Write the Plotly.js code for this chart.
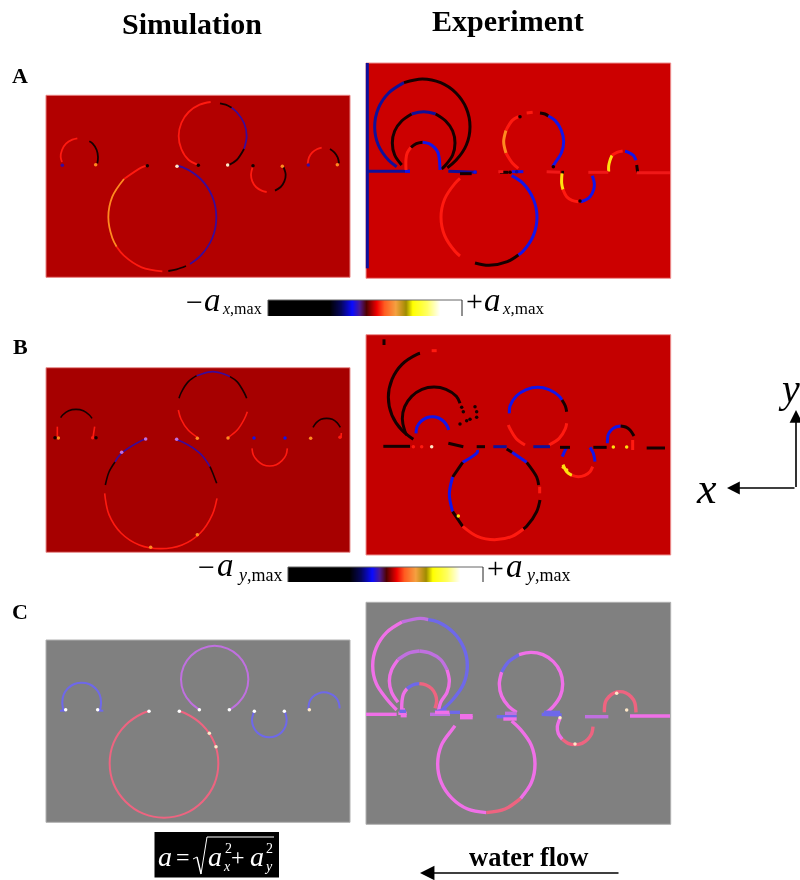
<!DOCTYPE html>
<html><head><meta charset="utf-8">
<script src="https://cdn.plot.ly/plotly-3.0.1.min.js"></script>
<style>html,body{margin:0;padding:0;background:#fff}#c{width:800px;height:880px;filter:blur(.45px)}</style>
</head><body><div id="c"></div>
<script>
// Panel curves: one list of x, one of y and one colour name per stroke.
const A1_k=['red','black','red','black','purple','black','red','orange','red','purple','black','red','black','red','black'];
const A1_x=[[186,182,186,198,217,232],[268,278,290,294,292],[592,566,544,536,544,566,599,632],[660,677,695],[695,710,732,740,732],[732,710,685],[442,425,372],[372,337,325,337,350],[350,372,425,487],[532,549,602,637,649,637,602,570],[558,530,505],[758,753,757,768,785,800],[825,842,853,857,850],[923,927,937,952,965],[990,1003,1013,1017]];
const A1_y=[[306,291,270,251,239,235],[244,251,270,291,310],[314,300,267,228,189,156,134,126],[130,134,143],[143,156,189,228,267],[267,300,316],[316,322,357],[357,410,472,534,560],[560,587,622,634],[318,322,357,410,472,534,587,612],[618,628,633],[320,344,364,381,392,396],[392,381,364,344,320],[312,292,277,267,263],[267,277,292,310]];
const A1_dx=[187,287,442,531,595,683,759,847,925,1012];
const A1_dy=[316,314,317,319,316,315,317,319,315,314];
const A1_dk=['purple','orange','black','cream','black','cream','black','orange','purple','orange'];

const A2_k=['navy','navy','navy','black','black','navy','black','blue','navy','black','red','black','blue','blue','black','red','black','blue','red','orange','red','red','black','blue','black','yellow','red','blue','yellow','red','blue','black','redl','redl','redl','redl'];
const A2_x=[[22,22],[22,150],[110,86,55,44,55,86,132],[132,187,242,288,319,330,319,288,262],[125,104,97,104,125,155],[155,191,227],[227,257,278,285,278,257,245],[150,135],[265,350],[300,335],[138,138,142,153],[153,169,188],[188,207,223,234,238,240],[475,489,520,531,520,489,455],[345,387,442,475],[300,285,254,243,254,285,300],[420,445],[455,490],[475,457,438],[438,431,438],[438,457,475],[500,518],[540,555,565],[565,585,604,611,604,585,578],[604,612],[606,605,609],[609,620,636,655],[662,674,690,701,703,697],[746,746,750,756],[756,771,788],[795,805,820,828],[830,833],[560,600],[685,745],[830,930],[415,430]];
const A2_y=[[24,640],[349,349],[335,316,270,215,160,114,83],[83,72,83,114,160,215,270,316,338],[330,300,264,228,198,177],[177,170,177],[177,198,228,264,300,330,342],[349,349],[349,352],[356,356],[345,312,293,277],[277,266,262],[262,266,277,293,312,345],[600,589,542,487,432,385,362],[624,631,620,600],[370,385,432,487,542,589,603],[352,352],[350,350],[340,324,294],[294,260,226],[226,196,185],[174,172],[174,177,183],[183,196,226,260,294,324,335],[352,352],[355,385,404],[404,425,436,440],[440,436,425,404,385,362],[350,333,316,301],[301,292,288],[289,292,301,316],[330,352],[350,352],[352,352],[353,353],[350,350]];
const A2_dx=[480,660,580,345,450,470];
const A2_dy=[185,438,335,351,352,350];
const A2_dk=['black','black','black','blue','black','navy'];

const B1_k=['black','red','red','black','purple','black','red','red','purple','black','red','purple','black','red','black','red'];
const B1_x=[[182,188,206,228,250,268,276],[172,172],[284,279],[537,543,565,590],[590,599,638,677,690],[690,711,733,740],[535,543,565,592],[742,733,711,685],[435,418,363,345],[345,327,316],[314,327,363,418,482,546,601,637,651],[530,546,601,630],[630,637,650],[756,760,772,789,809,829,846,858,862],[939,949,963,980,997,1011,1021],[1024,1023]];
const B1_y=[[263,255,242,238,242,255,265],[290,320],[290,322],[205,189,155,137],[137,134,125,134,140],[140,155,189,205],[240,267,301,322],[245,267,301,322],[328,335,371,396],[396,426,465],[490,554,609,645,656,645,609,554,505],[330,335,371,410],[410,426,460],[355,375,392,404,408,404,392,375,355],[292,278,268,265,268,278,292],[309,322]];
const B1_dx=[175,165,278,288,437,530,592,684,762,855,932,1020,365,452,592];
const B1_dy=[324,323,323,323,327,328,325,324,324,324,325,322,367,652,614];
const B1_dk=['orange','black','red','black','violet','violet','orange','orange','blue','blue','orange','red','violet','orange','orange'];

const B2_k=['black','black','red','black','blue','black','blue','black','blue','black','black','red','black','red','blue','blue','black','red','red','blue','yellow','red','blue','blue','black','red','black','black','black','navy','navy','black','black','black'];
const B2_x=[[160,126,96,85,96,126,171,180],[72,72],[215,230],[140,134,127,134,155,186,222,258,289,300],[168,171,182,198,217,236,252,263,266],[70,150],[352,352,308],[308,278],[278,268,278],[278,295,308],[490,500,530,540],[308,352,404,456,490],[500,530,536],[539,539],[456,500],[448,450,469,499,533,567,597,606],[606,616,620],[445,450,469,495],[620,616,597,567],[620,612,607],[609,620,636],[636,655,674,690,698],[690,700,705],[742,745,754,767,782],[782,797,810,822],[818,818],[350,375],[440,456],[700,740],[400,440],[520,570],[600,630],[860,915],[265,310]];
const B2_y=[[328,301,256,202,148,103,73,70],[28,45],[62,62],[315,302,266,230,199,178,171,178,199,220],[310,291,275,264,260,264,275,291,300],[349,349],[360,367,397],[397,441],[441,493,545],[545,570,589],[597,589,545,510],[589,619,629,619,597],[397,441,465],[470,490],[367,397],[250,228,198,179,172,179,198,210],[210,228,245],[285,296,326,345],[280,296,326,345],[352,368,380],[404,425,436],[436,440,436,425,410],[352,370,395],[340,313,300,291,288],[288,291,300,318],[330,360],[350,350],[357,367],[352,352],[350,350],[350,350],[352,352],[354,354],[340,350]];
const B2_dx=[305,310,320,345,350,350,300,215,160,185,295,620,760,800,330,610];
const B2_dy=[232,245,272,230,245,262,282,350,350,350,558,420,351,351,268,412];
const B2_dk=['black','black','black','black','black','black','black','cream','red','red','yellow','yellow','yellow','yellow','black','yellow'];

const C1_k=['pblue','pblue','pblue','violet','salmon','pblue','pblue'];
const C1_x=[[190,187,191,204,223,245,267,286,299,303,300],[180,195],[295,310],[600,573,551,543,551,573,605,644,683,715,737,745,737,715,688],[447,430,377,341,329,341,377,430,492,554,607,643,655,643,607,554,538],[762,756,760,771,788,808,828,845,856,860,855],[925,928,938,954,972,990,1006,1016,1019]];
const C1_y=[[332,306,284,265,252,248,252,265,284,306,332],[332,332],[332,332],[330,309,277,238,199,167,146,137,146,167,199,238,277,309,330],[334,339,375,428,490,552,605,641,653,641,605,552,490,428,375,339,334],[335,360,380,397,408,412,408,397,380,360,335],[330,307,291,281,277,281,291,307,325]];
const C1_dx=[197,293,447,538,598,688,763,853,928,628,648];
const C1_dy=[329,329,334,334,329,329,334,334,329,400,440];
const C1_dk=['white','white','white','white','white','white','white','white','cream','cream','cream'];

const C2_k=['magenta','magenta','violet','pblue','magenta','violet','violet','magenta','magenta','pblue','salmon','magenta','violet','magenta','magenta','salmon','magenta','pblue','magenta','pblue','magenta','pblue','magenta','magenta','salmon','violet','salmon','magenta','pblue','pblue','magenta','magenta','pblue','violet','pblue','magenta','magenta'];
const C2_x=[[18,110],[110,80,49,38,49,80,126],[126,180,205],[205,234,280,311,322,311,280,235],[114,95,88,95,114],[114,144,178],[178,212,242,261],[261,268,261,242,235],[125,126,130,141],[141,158,178],[178,198,215,226,230,225],[115,140],[210,270],[300,338],[285,276,244,233,244,276,323,379],[379,435,482],[482,514,525,514,482,455],[410,470],[470,446,425,418,425],[425,446,477],[477,513,549,580,601,608,601,580,553],[545,605],[600,592,595,607],[120,135],[607,624,645,666,683,695,699],[675,745],[733,736,746,762,780,798,814,824,828],[810,930],[225,260],[118,138],[122,140],[225,268],[270,300],[435,470],[552,600],[430,470],[300,338]];
const C2_y=[[358,358],[345,312,266,212,158,112,81],[81,70,74],[74,81,112,158,212,266,312,355],[322,292,258,224,194],[194,175,168],[168,175,194,224],[224,258,292,322,350],[345,318,298,281],[281,270,266],[266,270,281,298,318,340],[355,355],[358,358],[362,362],[392,404,451,507,563,610,642,653],[653,642,610],[610,563,507,451,404,378],[365,365],[352,334,303,267,231],[231,200,179],[179,172,179,200,231,267,303,334,358],[358,360],[370,395,416,433],[345,345],[433,445,449,445,433,416,395],[365,365],[352,322,306,294,290,294,306,322,352],[363,363],[350,345],[349,349],[362,362],[352,352],[352,352],[355,355],[352,352],[372,372],[368,368]];
const C2_dx=[770,645,800,600];
const C2_dy=[295,447,345,368];
const C2_dk=['cream','cream','cream','cream'];

// Colour bar: levels across the bar and the stops of its colour scale.
const barLevels=[0,1,2,3,4,5,6,7,8,9,10,11,12,13,14,15,16,17,18,19,20,21,22,23,24,25,26,27,28,29,30,31,32,33,34,35,36,37,38,39,40,41,42,43,44,45,46,47,48,49,50,51,52,53,54,55,56,57,58,59,60,61,62,63];
const barScale=[[0,'#000000'],[0.31,'#000000'],[0.37,'#06065a'],[0.43,'#0a0aff'],[0.47,'#4a1a90'],[0.505,'#500000'],[0.56,'#f00000'],[0.60,'#ff5a20'],[0.66,'#f5a040'],[0.715,'#a08c00'],[0.75,'#ffff00'],[0.82,'#ffff60'],[0.89,'#ffffff'],[1,'#ffffff']];

const palette={red:'#ff1a10',redl:'#f01818',black:'#160000',blue:'#1414e8',navy:'#10109a',purple:'#3a0a9a',orange:'#ff8a20',yellow:'#ffe010',cream:'#ffe8c8',white:'#ffffff',violet:'#c070e0',pblue:'#6e68ea',salmon:'#ee6480',magenta:'#f070e8'};

const panels=[
 {x:A1_x,y:A1_y,k:A1_k,dx:A1_dx,dy:A1_dy,dk:A1_dk,w:1.8,crop:[0,60,360,260]},
 {x:A2_x,y:A2_y,k:A2_k,dx:A2_dx,dy:A2_dy,dk:A2_dk,w:3,crop:[360,55,320,265]},
 {x:B1_x,y:B1_y,k:B1_k,dx:B1_dx,dy:B1_dy,dk:B1_dk,w:1.6,crop:[0,330,360,260]},
 {x:B2_x,y:B2_y,k:B2_k,dx:B2_dx,dy:B2_dy,dk:B2_dk,w:3,crop:[360,330,320,260]},
 {x:C1_x,y:C1_y,k:C1_k,dx:C1_dx,dy:C1_dy,dk:C1_dk,w:2,crop:[0,600,360,280]},
 {x:C2_x,y:C2_y,k:C2_k,dx:C2_dx,dy:C2_dy,dk:C2_dk,w:3.4,crop:[360,595,320,285]}
];

const W=800,H=880,traces=[];
const hidden={visible:false,fixedrange:true};
const layout={width:W,height:H,margin:{l:0,r:0,t:0,b:0},paper_bgcolor:'#fff',plot_bgcolor:'rgba(0,0,0,0)',showlegend:false,
 xaxis:{...hidden,domain:[0,1],range:[0,W]},yaxis:{...hidden,domain:[0,1],range:[H,0]},shapes:[],annotations:[]};

// colour bars
[[268,300,16],[288,567,15]].forEach(b=>traces.push({type:'heatmap',x0:b[0]+1.5,dx:3.03,y0:b[1]+b[2]/4,dy:b[2]/2,z:[barLevels,barLevels],zsmooth:'best',colorscale:barScale,showscale:false,hoverinfo:'skip',zmin:0,zmax:63,xaxis:'x',yaxis:'y'}));

panels.forEach((p,i)=>{
 const n=i+2,[ox,oy,cw,ch]=p.crop;
 layout['xaxis'+n]={...hidden,domain:[ox/W,(ox+cw)/W],range:[0,cw*3],anchor:'y'+n};
 layout['yaxis'+n]={...hidden,domain:[1-(oy+ch)/H,1-oy/H],range:[ch*3,0],anchor:'x'+n};
 p.k.forEach((k,j)=>traces.push({type:'scatter',mode:'lines',x:p.x[j],y:p.y[j],xaxis:'x'+n,yaxis:'y'+n,hoverinfo:'skip',cliponaxis:false,
   line:{color:palette[k],width:p.w,shape:'spline',smoothing:1}}));
 traces.push({type:'scatter',mode:'markers',x:p.dx,y:p.dy,xaxis:'x'+n,yaxis:'y'+n,hoverinfo:'skip',
   marker:{color:p.dk.map(k=>palette[k]),size:3.5}});
});

const rect=(x0,y0,x1,y1,fill,line)=>layout.shapes.push({type:'rect',xref:'x',yref:'y',x0,y0,x1,y1,fillcolor:fill,line:{color:line,width:line==='rgba(0,0,0,0)'?0:1},layer:'below'});
rect(46,95.3,350,277.3,'#b20000','#e88080');
rect(366,63,670.7,278.3,'#cc0000','#ee9090');
rect(46,367.7,350,552.3,'#a60000','#e89090');
rect(366,334.7,670.7,555,'#c40000','#ee9090');
rect(46,640,350,822.3,'#808080','#b0b0b0');
rect(366,602.3,670.7,824.3,'#808080','#b0b0b0');
rect(154.5,832,279,877.5,'#000000','rgba(0,0,0,0)');

const seg=(x0,y0,x1,y1,color,width)=>layout.shapes.push({type:'line',xref:'x',yref:'y',x0,y0,x1,y1,line:{color,width},layer:'above'});
seg(268,300,462,300,'#666',1);seg(462,300,462,316,'#222',1);seg(268,300,268,316,'#555',1);
seg(288,567,483,567,'#666',1);seg(483,567,483,582,'#222',1);seg(288,567,288,582,'#555',1);
// radical of the formula
seg(193,859,197,857,'#fff',1);seg(197,857,201,874,'#fff',1.4);seg(201,874,207,837,'#fff',1);seg(207,837,274,837,'#fff',1);

const serif='"Liberation Serif",serif';
const txt=(x,y,text,size,opt={})=>layout.annotations.push({xref:'x',yref:'y',x,y,text,showarrow:false,xanchor:opt.a||'center',yanchor:'middle',font:{family:serif,size,color:opt.c||'#000'}});
txt(192,23,'<b>Simulation</b>',30);
txt(508,20,'<b>Experiment</b>',30);
txt(20,75,'<b>A</b>',22);txt(20,346,'<b>B</b>',22);txt(20,611,'<b>C</b>',22);
// colour bar labels
txt(194,301,'−',30);txt(212,300,'<i>a</i>',33);txt(220,308,'<i>x</i>,max',16,{a:'left'});
txt(474,300,'+',30);txt(492,300,'<i>a</i>',33);txt(500,308,'<i>x</i>,max',17,{a:'left'});
txt(206,566,'−',30);txt(225,565,'<i>a</i>',33);txt(235,575,'<i>y</i>,max',18,{a:'left'});
txt(495,567,'+',30);txt(514,566,'<i>a</i>',33);txt(523,575,'<i>y</i>,max',18,{a:'left'});
// formula
const w='#ffffff';
txt(165,856,'<i>a</i>',28,{c:w});txt(183,857,'=',24,{c:w});
txt(215,856,'<i>a</i>',28,{c:w});txt(228,848,'2',14,{c:w});txt(227,866,'<i>x</i>',14,{c:w});
txt(238,857,'+',24,{c:w});
txt(257,856,'<i>a</i>',28,{c:w});txt(269,848,'2',14,{c:w});txt(268,866,'<i>y</i>',14,{c:w});
// axes key
txt(789,388,'<i>y</i>',40);txt(706,488,'<i>x</i>',44);
txt(528,857,'<b>water flow</b>',26.5);
const arrow=(x,y,ax,ay,size,width)=>layout.annotations.push({xref:'x',yref:'y',axref:'x',ayref:'y',x,y,ax,ay,text:'',showarrow:true,arrowhead:2,arrowsize:size,arrowwidth:width,arrowcolor:'#000'});
arrow(796,410,796,488.5,1.6,1.6);
arrow(727,488,796,488,1.6,1.6);
arrow(420,873,620,873,1.7,1.7);

Plotly.newPlot('c',traces,layout,{staticPlot:true,displayModeBar:false});
</script></body></html>
